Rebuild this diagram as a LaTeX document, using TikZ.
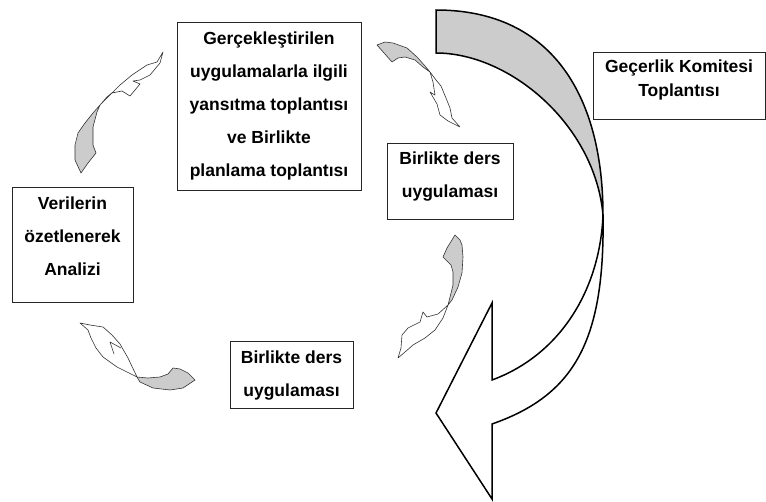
\documentclass[tikz,border=0pt]{standalone}
\usepackage{fontspec}
\setmainfont{Liberation Sans}
\begin{document}
\begin{tikzpicture}[x=1pt,y=-1pt,
  box/.style={draw=black!85,line width=0.9pt,inner sep=0pt},
  txt/.style={align=center,inner sep=0pt,font=\fontsize{17.5}{33}\selectfont\bfseries},
  txtb/.style={align=center,inner sep=0pt,font=\fontsize{17.5}{24}\selectfont\bfseries},
  bigarrow/.style={draw=black,line width=1.5pt,line join=miter},
  smallarrow/.style={draw=black!80,line width=0.6pt,line join=round},
  tailfill/.style={fill=black!20}]
\useasboundingbox (0,0) rectangle (766,501);

% boxes
\node[box,minimum width=184pt,minimum height=168pt] (plan) at (269,106) {};
\node[txt] (plantxt) at (269,106) {Gerçekleştirilen\\uygulamalarla ilgili\\yansıtma toplantısı\\ve Birlikte\\planlama toplantısı};

\node[box,minimum width=126pt,minimum height=76pt] (ders1) at (450,181) {};
\node[txt] (ders1txt) at (450,176.5) {Birlikte ders\\uygulaması};

\node[box,minimum width=121pt,minimum height=115pt] (analiz) at (72.5,244.5) {};
\node[txt] (analiztxt) at (72.5,236.5) {Verilerin\\özetlenerek\\Analizi};

\node[box,minimum width=123pt,minimum height=67pt] (ders2) at (291.5,374.5) {};
\node[txt] (ders2txt) at (291.5,375.5) {Birlikte ders\\uygulaması};

\node[box,minimum width=172pt,minimum height=67pt] (komite) at (679,85.5) {};
\node[txtb] (komitetxt) at (679,80) {Geçerlik Komitesi\\Toplantısı};

% large twisted arrow: grey back face, white front face with head
\coordinate (twist) at (603,215);
\filldraw[bigarrow,tailfill] (436,10) .. controls (555,10) and (603,100) .. (twist)
  .. controls (595,125) and (510,53) .. (436,53) -- cycle;
\filldraw[bigarrow,fill=white] (twist) .. controls (605,340) and (575,395) .. (492,424)
  -- (492,499) -- (436,413) -- (492,303) -- (492,380)
  .. controls (560,355) and (600,290) .. (twist) -- cycle;

% small arrow: from analysis up to the planning box
\filldraw[smallarrow,tailfill] (81,173) -- (75,160) -- (75,145) -- (78,133) -- (85,123)
  -- (93,113) -- (100,105) -- (97,112) -- (93,127) -- (93,145) -- (96,153) -- (88,163) -- cycle;
\filldraw[smallarrow,fill=white] (100,105) -- (107,97) -- (113,92) -- (120,85) -- (132,75)
  -- (147,65) -- (157,62) -- (163,52) -- (160,63) -- (150,75) -- (140,80) -- (133,81)
  -- (140,84) -- (130,96) -- (122,91) -- (112,93) -- (104,101) -- cycle;

% small arrow: from the planning box down to the right lesson box
\filldraw[smallarrow,tailfill] (377,45) -- (385,42) -- (393,43) -- (407,48) -- (417,57)
  -- (425,66) -- (430,72) -- (423,67) -- (415,60) -- (405,57) -- (398,58) -- (392,62) -- cycle;
\filldraw[smallarrow,fill=white] (430,72) -- (436,80) -- (441,86) -- (446,98) -- (450,108)
  -- (452,118) -- (460,127) -- (448,121) -- (440,115) -- (437,104) -- (430,92)
  -- (435,95) -- (433,82) -- cycle;

% small arrow: from the right lesson box down to the lower lesson box
\filldraw[smallarrow,tailfill] (455,235) -- (460,240) -- (462,245) -- (463,257) -- (462,273)
  -- (458,287) -- (452,300) -- (448,305) -- (450,297) -- (453,285) -- (453,272)
  -- (451,265) -- (443,257) -- (447,248) -- cycle;
\filldraw[smallarrow,fill=white] (448,305) -- (438,314) -- (427,317) -- (423,312)
  -- (420,322) -- (408,328) -- (402,335) -- (401,348) -- (398,358) -- (405,352)
  -- (413,345) -- (425,338) -- (435,330) -- (443,318) -- cycle;

% small arrow: from the lower lesson box up to the analysis box
\filldraw[smallarrow,tailfill] (195,380) -- (188,373) -- (180,369) -- (173,368) -- (168,374)
  -- (160,377) -- (148,378) -- (137,377) -- (140,382) -- (153,388) -- (170,390)
  -- (183,388) -- cycle;
\filldraw[smallarrow,fill=white] (137,377) -- (128,358) -- (120,344) -- (112,335)
  -- (103,327) -- (90,325) -- (80,323) -- (88,330) -- (91,338) -- (96,348)
  -- (103,357) -- (117,367) -- cycle;
\draw[smallarrow] (114,354) -- (110,342) -- (121,348);
\end{tikzpicture}
\end{document}
